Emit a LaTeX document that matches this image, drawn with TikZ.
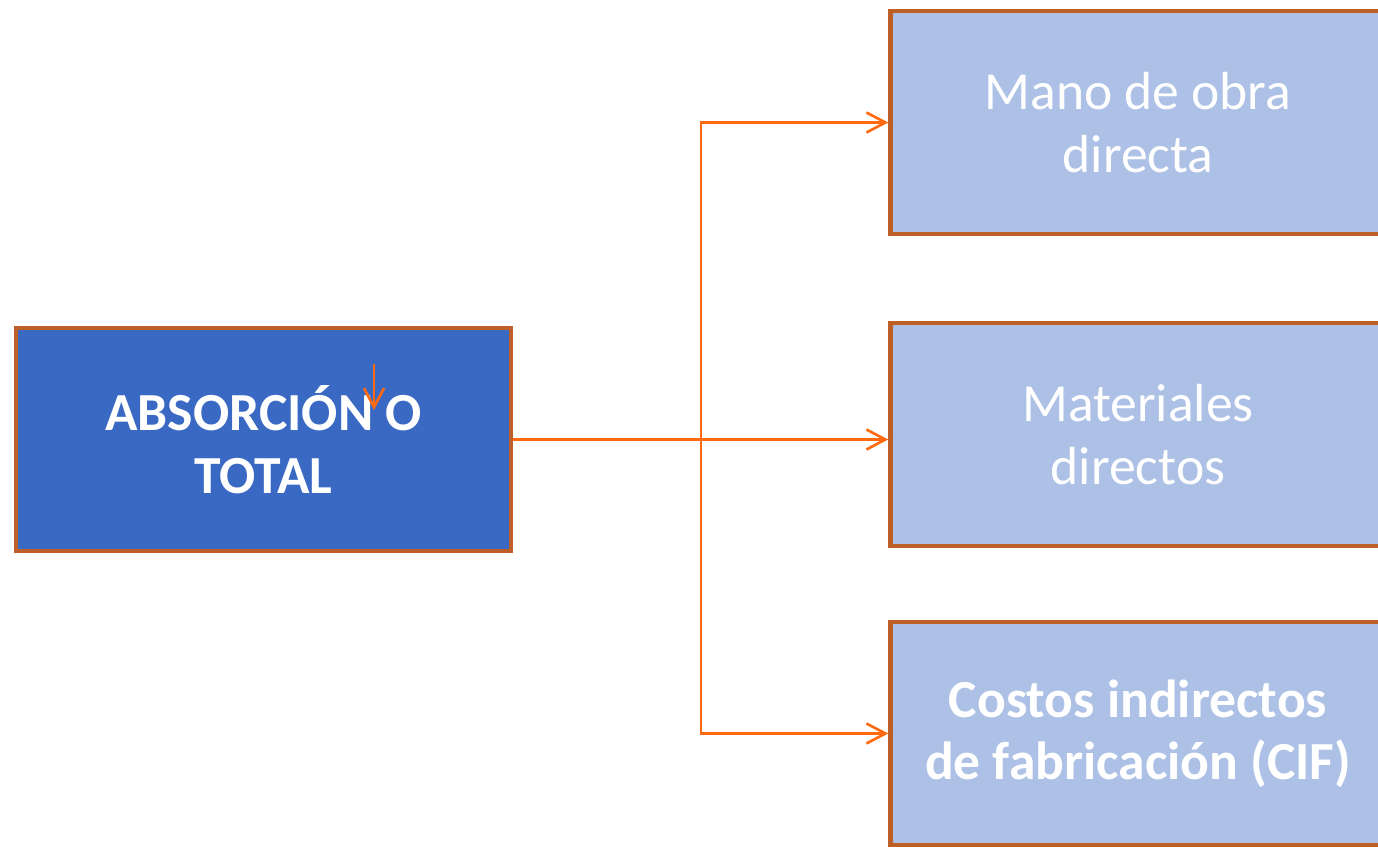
\documentclass[tikz,border=0pt]{standalone}
\usepackage{fontspec}
\setmainfont{Carlito}
\usetikzlibrary{arrows.meta}
\definecolor{darkfill}{HTML}{3A69C4}
\definecolor{lightfill}{HTML}{ADC1E6}
\definecolor{rim}{HTML}{BD5F27}
\definecolor{wire}{HTML}{FF6A10}
\tikzset{
	box/.style={draw=rim,line width=2.6pt,minimum width=9.9cm,minimum height=4.46cm,align=center,text=white,font=\fontsize{30.5}{35.5}\selectfont},
	mainbox/.style={box,fill=darkfill,font=\fontsize{30.5}{35.5}\selectfont\bfseries},
	subbox/.style={box,fill=lightfill},
	link/.style={draw=wire,line width=1.5pt,-{Straight Barb[length=3.8mm,width=4mm]}}
}
\begin{document}
\begin{tikzpicture}[x=0.02cm,y=-0.02cm]
	\useasboundingbox (0,0) rectangle (1378,848);
	\clip (0,0) rectangle (1378,848);
	\node[mainbox] (abs) at (263.5,439.5) {ABSORCIÓN O\\TOTAL};
	\node[subbox] (mano) at (1138,122.5) {Mano de obra\\directa};
	\node[subbox] (mat) at (1138,434.5) {Materiales\\directos};
	\node[subbox,font=\fontsize{30.5}{35.5}\selectfont\bfseries] (cif) at (1138,733.5) {Costos indirectos\\de fabricación (CIF)};
	\coordinate (fork) at (701,439.5);
	\coordinate (tickA) at (374,364);
	\coordinate (tickB) at (374,410);
	\draw[link] (abs.east) -- (abs.east -| mat.west);
	\draw[link] (fork) |- (mano.west);
	\draw[link] (fork) |- (cif.west);
	\draw[link] (tickA) -- (tickB);
\end{tikzpicture}
\end{document}
